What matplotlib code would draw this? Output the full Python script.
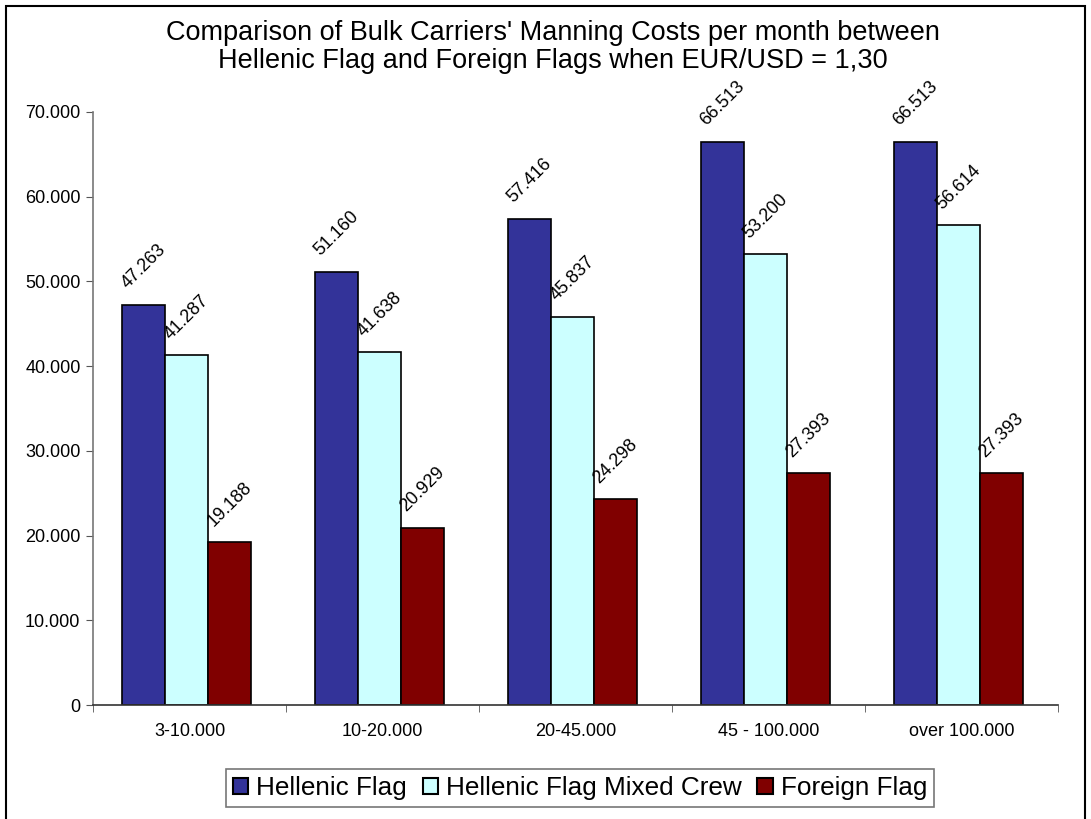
import numpy as np
import matplotlib.pyplot as plt
from matplotlib.patches import Rectangle
from matplotlib.ticker import FuncFormatter

plt.rcParams['font.family'] = ['Liberation Sans', 'DejaVu Sans']

categories = ['3-10.000', '10-20.000', '20-45.000', '45 - 100.000', 'over 100.000']
hellenic = [47263, 51160, 57416, 66513, 66513]
mixed = [41287, 41638, 45837, 53200, 56614]
foreign = [19188, 20929, 24298, 27393, 27393]
series_names = ['Hellenic Flag', 'Hellenic Flag Mixed Crew', 'Foreign Flag']
colors = ['#333399', '#CCFFFF', '#800000']

fig = plt.figure(figsize=(10.91, 8.19), dpi=100)
ax = fig.add_axes([93/1091, 1 - 705/819, (1058-93)/1091, (705-112)/819])

x = np.arange(len(categories))
w = 0.222
for i, (vals, name, c) in enumerate(zip([hellenic, mixed, foreign], series_names, colors)):
    pos = x + (i - 1) * w - 0.015
    ax.bar(pos, vals, width=w, color=c, edgecolor='black', linewidth=1.2, label=name)
    for p, v in zip(pos, vals):
        lbl = f"{v/1000:.3f}"
        ax.annotate(lbl, (p, v), xytext=(0, 9), textcoords='offset points',
                    rotation=45, ha='center', va='bottom', fontsize=13)

ax.set_xlim(-0.5, len(categories) - 0.5)
ax.set_ylim(0, 70000)
ax.set_yticks(np.arange(0, 70001, 10000))
ax.yaxis.set_major_formatter(FuncFormatter(lambda v, _: '0' if v == 0 else f"{v/1000:.3f}"))
ax.set_xticks(x)
ax.set_xticklabels(categories, fontsize=13)
ax.set_xticks(np.arange(-0.5, len(categories)), minor=True)
ax.tick_params(axis='x', which='major', length=0, pad=13)
ax.tick_params(axis='x', which='minor', length=5, direction='out', color='#555555')
ax.tick_params(axis='y', labelsize=13, length=5, color='#555555', pad=4)

for s in ['top', 'right']:
    ax.spines[s].set_visible(False)
ax.spines['left'].set_color('#777777')
ax.spines['bottom'].set_color('#333333')
ax.spines['left'].set_linewidth(1.2)
ax.spines['bottom'].set_linewidth(1.2)

fig.text(553/1091, 1 - 47/819,
         "Comparison of Bulk Carriers' Manning Costs per month between\nHellenic Flag and Foreign Flags when EUR/USD = 1,30",
         ha='center', va='center', fontsize=19.5, linespacing=1.05)

leg = fig.legend(loc='center', bbox_to_anchor=(580/1091, 1 - 788/819), ncol=3,
                 fontsize=18.8, frameon=True, fancybox=False, edgecolor='#555555',
                 handlelength=0.6, handleheight=0.6, handletextpad=0.3, columnspacing=0.6,
                 borderpad=0.25)
leg.get_frame().set_linewidth(1.2)
for h in leg.legend_handles:
    h.set_linewidth(1.5)

fig.patches.append(Rectangle((6/1091, -0.01), (1085-6)/1091, 1.01 - 6/819,
                             transform=fig.transFigure, fill=False,
                             edgecolor='black', linewidth=1.5))

fig.savefig('out.png', dpi=100)
